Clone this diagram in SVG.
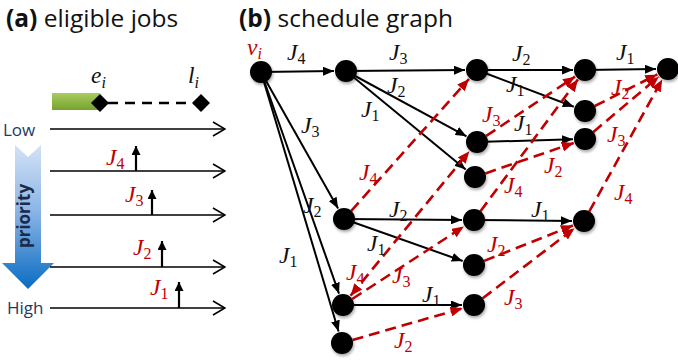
<svg xmlns="http://www.w3.org/2000/svg" width="678" height="364" viewBox="0 0 678 364">
<style>
.title{font-family:"Open Sans","Liberation Sans",sans-serif;font-size:24.5px;fill:#111}
.b{font-weight:bold}
.lbl{font-family:"Liberation Serif","DejaVu Serif",serif;font-style:italic;font-size:23.5px;fill:#111}
.sub{font-style:normal;font-size:16px}
.isub{font-size:16px}
.red{fill:#C00000}
.pr{font-family:"Open Sans","Liberation Sans",sans-serif;font-size:17px;fill:#1F3864}
.edge{stroke:#000;stroke-width:2;fill:none;marker-end:url(#ah)}
.dash{stroke:#C00000;stroke-width:2.6;stroke-dasharray:11 6;fill:none;marker-end:url(#rh)}
.tl{stroke:#000;stroke-width:1.6;fill:none;marker-end:url(#oh)}
.up{stroke:#000;stroke-width:2.2;marker-end:url(#uh)}
.node{fill:#000;filter:url(#sh)}
</style>
<defs>
<marker id="ah" markerUnits="userSpaceOnUse" markerWidth="11" markerHeight="9" refX="11" refY="4.5" orient="auto"><path d="M0,0 L11,4.5 L0,9 z" fill="#000"/></marker>
<marker id="rh" markerUnits="userSpaceOnUse" markerWidth="12" markerHeight="10" refX="12" refY="5" orient="auto"><path d="M0,0 L12,5 L0,10 z" fill="#C00000"/></marker>
<marker id="rs" markerUnits="userSpaceOnUse" markerWidth="12" markerHeight="10" refX="0" refY="5" orient="auto"><path d="M12,0 L0,5 L12,10 z" fill="#C00000"/></marker>
<marker id="oh" markerUnits="userSpaceOnUse" markerWidth="14" markerHeight="16" refX="13" refY="8" orient="auto"><path d="M1,1 L13,8 L1,15" fill="none" stroke="#000" stroke-width="1.6"/></marker>
<marker id="uh" markerUnits="userSpaceOnUse" markerWidth="9" markerHeight="9" refX="9" refY="4.5" orient="auto"><path d="M0,0 L9,4.5 L0,9 z" fill="#000"/></marker>
<filter id="sh" x="-50%" y="-50%" width="200%" height="200%"><feDropShadow dx="1" dy="2" stdDeviation="1.5" flood-color="#000" flood-opacity="0.35"/></filter>
<linearGradient id="gb" x1="0" y1="0" x2="0" y2="1"><stop offset="0" stop-color="#A9CC5E"/><stop offset="1" stop-color="#76A22E"/></linearGradient>
<linearGradient id="bl" x1="0" y1="0" x2="0" y2="1"><stop offset="0" stop-color="#D3E2F5"/><stop offset="0.45" stop-color="#8DB6E6"/><stop offset="1" stop-color="#0A6CC2"/></linearGradient>
</defs>

<!-- (a) eligible jobs -->
<g id="panel-a">
<text class="title" x="6" y="27"><tspan class="b">(a)</tspan> eligible jobs</text>
<rect x="52" y="93" width="48" height="17" fill="url(#gb)"/>
<line x1="108" y1="103" x2="194" y2="103" stroke="#000" stroke-width="2.5" stroke-dasharray="10 7"/>
<path d="M100,94 L109,103 L100,112 L91,103 z" fill="#000"/>
<path d="M201,94 L210,103 L201,112 L192,103 z" fill="#000"/>
<text class="lbl" x="91" y="83">e<tspan class="isub" dy="5">i</tspan></text>
<text class="lbl" x="188" y="83">l<tspan class="isub" dy="5">i</tspan></text>
<path d="M15,145 L28,157 L41,145 L41,263 L54,263 L28,289 L2,263 L15,263 z" fill="url(#bl)"/>
<text x="30" y="216" transform="rotate(-90 30 216)" text-anchor="middle" font-family="'Open Sans','Liberation Sans',sans-serif" font-weight="bold" font-size="17" fill="#1B2A47">priority</text>
<text class="pr" x="3" y="136">Low</text>
<text class="pr" x="7" y="314">High</text>
<line class="tl" x1="50" y1="129" x2="225" y2="129"/>
<line class="tl" x1="50" y1="171" x2="225" y2="171"/>
<line class="tl" x1="50" y1="215" x2="225" y2="215"/>
<line class="tl" x1="50" y1="267" x2="225" y2="267"/>
<line class="tl" x1="50" y1="308" x2="225" y2="308"/>
<line class="up" x1="136" y1="171" x2="136" y2="146"/>
<line class="up" x1="152" y1="215" x2="152" y2="190"/>
<line class="up" x1="162" y1="267" x2="162" y2="241"/>
<line class="up" x1="179" y1="308" x2="179" y2="282"/>
<text class="lbl red" x="106" y="165">J<tspan class="sub" dy="4">4</tspan></text>
<text class="lbl red" x="125" y="202">J<tspan class="sub" dy="4">3</tspan></text>
<text class="lbl red" x="133" y="255">J<tspan class="sub" dy="4">2</tspan></text>
<text class="lbl red" x="150" y="295">J<tspan class="sub" dy="4">1</tspan></text>
</g>

<!-- (b) schedule graph -->
<text class="title" x="239" y="27"><tspan class="b">(b)</tspan> schedule graph</text>

<g id="connectors">
<line class="edge" x1="261" y1="72" x2="334" y2="71.1"/>
<line class="edge" x1="346" y1="71" x2="465" y2="70.1"/>
<line class="edge" x1="477" y1="70" x2="573" y2="70"/>
<line class="edge" x1="585" y1="70" x2="656" y2="69.1"/>
<line class="edge" x1="477" y1="70" x2="573.8" y2="106.7"/>
<line class="edge" x1="346" y1="71" x2="466.5" y2="136.3"/>
<line class="edge" x1="346" y1="71" x2="465.7" y2="169.4"/>
<line class="edge" x1="477" y1="142" x2="573" y2="139.3"/>
<line class="edge" x1="261" y1="72" x2="338.1" y2="208.5"/>
<line class="edge" x1="261" y1="72" x2="339" y2="293.7"/>
<line class="edge" x1="261" y1="72" x2="338.6" y2="331.5"/>
<line class="edge" x1="344" y1="219" x2="462" y2="219.9"/>
<line class="edge" x1="344" y1="219" x2="462.7" y2="261"/>
<line class="edge" x1="474" y1="220" x2="572" y2="220.9"/>
<line class="edge" x1="343" y1="305" x2="462" y2="305"/>

<line class="dash" x1="351.3" y1="210.8" x2="469" y2="79"/>
<line class="dash" x1="350.6" y1="295.7" x2="469.4" y2="151.3" marker-start="url(#rs)"/>
<line class="dash" x1="352.2" y1="299" x2="463.9" y2="226.5"/>
<line class="dash" x1="352.6" y1="340" x2="462.5" y2="308.3"/>
<line class="dash" x1="486.2" y1="135.9" x2="575" y2="76.7"/>
<line class="dash" x1="485.4" y1="173.4" x2="573.7" y2="142.9"/>
<line class="dash" x1="480.5" y1="211.2" x2="577.9" y2="79.6"/>
<line class="dash" x1="484.2" y1="260.9" x2="572.9" y2="225.5"/>
<line class="dash" x1="482.7" y1="298.3" x2="574.5" y2="228.3"/>
<line class="dash" x1="594.8" y1="106" x2="657.3" y2="74.4"/>
<line class="dash" x1="593.4" y1="131.9" x2="658.8" y2="76.7"/>
<line class="dash" x1="589.3" y1="211.4" x2="662.2" y2="79.5"/>
</g>

<g id="edge-labels">
<text class="lbl" x="287" y="60">J<tspan class="sub" dy="4">4</tspan></text>
<text class="lbl" x="389" y="60">J<tspan class="sub" dy="4">3</tspan></text>
<text class="lbl" x="512" y="61">J<tspan class="sub" dy="4">2</tspan></text>
<text class="lbl" x="616" y="60">J<tspan class="sub" dy="4">1</tspan></text>
<text class="lbl" x="387" y="93">J<tspan class="sub" dy="4">2</tspan></text>
<text class="lbl" x="361" y="117">J<tspan class="sub" dy="4">1</tspan></text>
<text class="lbl" x="506" y="92">J<tspan class="sub" dy="4">1</tspan></text>
<text class="lbl" x="514" y="131">J<tspan class="sub" dy="4">1</tspan></text>
<text class="lbl" x="301" y="133">J<tspan class="sub" dy="4">3</tspan></text>
<text class="lbl" x="303" y="213">J<tspan class="sub" dy="4">2</tspan></text>
<text class="lbl" x="279" y="263">J<tspan class="sub" dy="4">1</tspan></text>
<text class="lbl" x="389" y="217">J<tspan class="sub" dy="4">2</tspan></text>
<text class="lbl" x="367" y="251">J<tspan class="sub" dy="4">1</tspan></text>
<text class="lbl" x="531" y="217">J<tspan class="sub" dy="4">1</tspan></text>
<text class="lbl" x="422" y="302">J<tspan class="sub" dy="4">1</tspan></text>

<text class="lbl red" x="359" y="180">J<tspan class="sub" dy="4">4</tspan></text>
<text class="lbl red" x="346" y="280">J<tspan class="sub" dy="4">4</tspan></text>
<text class="lbl red" x="392" y="283">J<tspan class="sub" dy="4">3</tspan></text>
<text class="lbl red" x="394" y="348">J<tspan class="sub" dy="4">2</tspan></text>
<text class="lbl red" x="482" y="122">J<tspan class="sub" dy="4">3</tspan></text>
<text class="lbl red" x="544" y="173">J<tspan class="sub" dy="4">2</tspan></text>
<text class="lbl red" x="504" y="193">J<tspan class="sub" dy="4">4</tspan></text>
<text class="lbl red" x="487" y="252">J<tspan class="sub" dy="4">2</tspan></text>
<text class="lbl red" x="504" y="305">J<tspan class="sub" dy="4">3</tspan></text>
<text class="lbl red" x="611" y="95">J<tspan class="sub" dy="4">2</tspan></text>
<text class="lbl red" x="607" y="142">J<tspan class="sub" dy="4">3</tspan></text>
<text class="lbl red" x="614" y="200">J<tspan class="sub" dy="4">4</tspan></text>
</g>

<g id="node-vi"><circle class="node" cx="261" cy="72" r="11"/><text class="lbl red" x="247" y="55">v<tspan class="isub" dy="4">i</tspan></text></g>
<g id="node-B"><circle class="node" cx="346" cy="71" r="11"/></g>
<g id="node-C"><circle class="node" cx="477" cy="70" r="11"/></g>
<g id="node-D"><circle class="node" cx="585" cy="70" r="11"/></g>
<g id="node-E"><circle class="node" cx="668" cy="69" r="11"/></g>
<g id="node-F"><circle class="node" cx="585" cy="111" r="11"/></g>
<g id="node-G"><circle class="node" cx="477" cy="142" r="11"/></g>
<g id="node-H"><circle class="node" cx="585" cy="139" r="11"/></g>
<g id="node-I"><circle class="node" cx="475" cy="177" r="11"/></g>
<g id="node-J"><circle class="node" cx="344" cy="219" r="11"/></g>
<g id="node-K"><circle class="node" cx="474" cy="220" r="11"/></g>
<g id="node-L"><circle class="node" cx="584" cy="221" r="11"/></g>
<g id="node-M"><circle class="node" cx="474" cy="265" r="11"/></g>
<g id="node-N"><circle class="node" cx="343" cy="305" r="11"/></g>
<g id="node-O"><circle class="node" cx="474" cy="305" r="11"/></g>
<g id="node-P"><circle class="node" cx="342" cy="343" r="11"/></g>
</svg>
